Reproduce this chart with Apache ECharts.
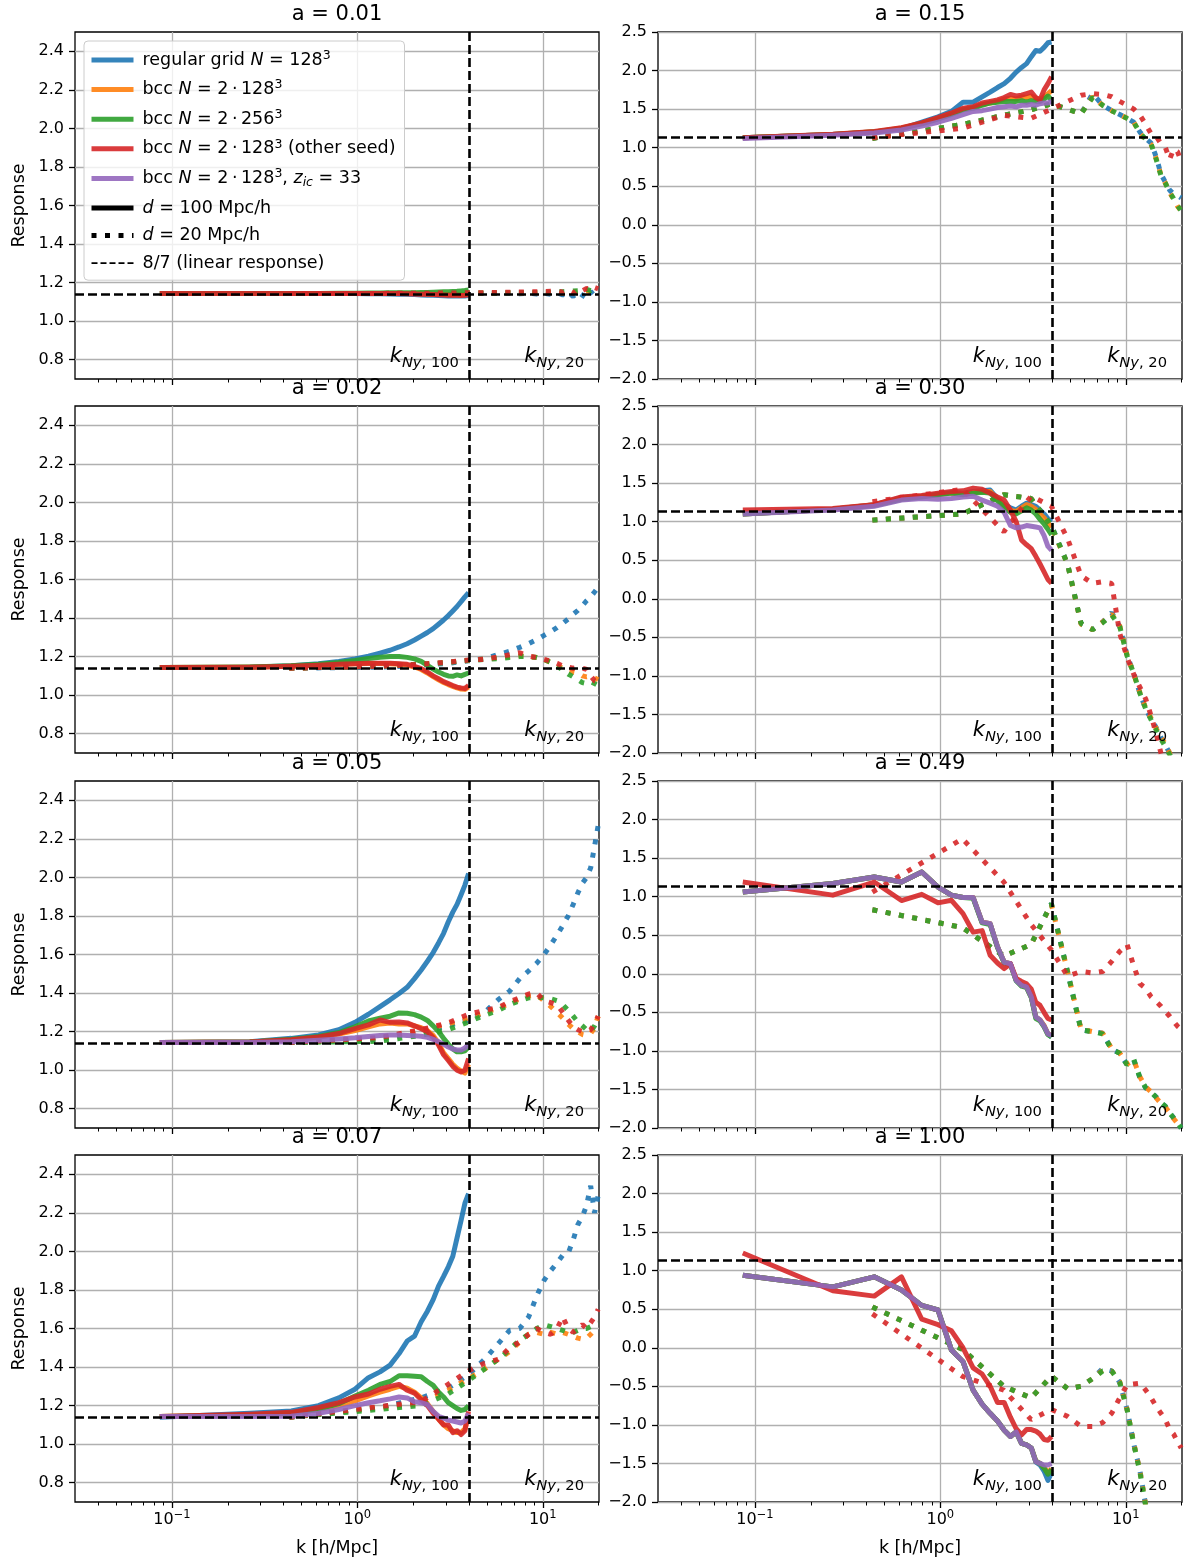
<!DOCTYPE html>
<html>
<head>
<meta charset="utf-8">
<title>Response vs k</title>
<script src="https://cdn.jsdelivr.net/npm/echarts@6/dist/echarts.min.js"></script>
<style>
  html, body { margin: 0; padding: 0; background: #ffffff; }
  #chart { width: 1185px; height: 1562px; }
</style>
</head>
<body>
<div id="chart"></div>
<script>
// ---------------------------------------------------------------
// Wavenumber bins (h/Mpc) for the two box sizes
// ---------------------------------------------------------------
const K100 = [0.086, 0.263, 0.44, 0.617, 0.794, 0.971, 1.148, 1.325, 1.502, 1.679, 1.856, 2.033,
              2.21, 2.387, 2.564, 2.741, 2.918, 3.095, 3.272, 3.449, 3.626, 3.803, 3.98];
const K20 = [0.43, 1.315, 2.2, 3.085, 3.97, 4.855, 5.74, 6.625, 7.51, 8.395, 9.28, 10.165,
             11.05, 11.935, 12.82, 13.705, 14.59, 15.475, 16.36, 17.245, 18.13, 19.015, 19.9];

const K_NY_100 = Math.PI * 128 / 100;
const K_NY_20 = Math.PI * 128 / 20;
const LINEAR_RESPONSE = 8 / 7;

// Axis ticks
const X_MIN = 0.03;
const X_MAJOR_TICKS = [0.1, 1, 10];
const X_MINOR_TICKS = [0.04, 0.05, 0.06, 0.07, 0.08, 0.09, 0.2, 0.3, 0.4, 0.5, 0.6, 0.7, 0.8, 0.9,
                       2, 3, 4, 5, 6, 7, 8, 9, 20];
const Y_LEFT_TICKS = [0.8, 1.0, 1.2, 1.4, 1.6, 1.8, 2.0, 2.2, 2.4];

// ---------------------------------------------------------------
// Response per run, d = 100 Mpc/h (on K100) and d = 20 Mpc/h (on K20)
// ---------------------------------------------------------------
// a = 0.01
const a001_regular_d100 = [1.143,1.143,1.143,1.143,1.143,1.143,1.142,1.142,1.141,1.140,1.139,1.138,1.136,1.135,1.134,1.133,1.132,1.131,1.131,1.130,1.130,1.131,1.133];
const a001_bcc128_d100  = [1.143,1.143,1.143,1.143,1.144,1.144,1.144,1.144,1.144,1.144,1.143,1.143,1.142,1.141,1.140,1.139,1.138,1.138,1.137,1.137,1.137,1.138,1.140];
const a001_bcc256_d100  = [1.143,1.143,1.144,1.144,1.145,1.145,1.146,1.146,1.147,1.147,1.148,1.148,1.149,1.149,1.150,1.151,1.152,1.153,1.154,1.155,1.157,1.159,1.162];
const a001_seed_d100    = [1.143,1.143,1.143,1.144,1.144,1.144,1.144,1.144,1.143,1.143,1.142,1.141,1.140,1.139,1.138,1.137,1.136,1.135,1.134,1.134,1.133,1.134,1.137];
const a001_regular_d20  = [1.143,1.143,1.144,1.144,1.145,1.144,1.143,1.145,1.142,1.146,1.141,1.145,1.140,1.147,1.136,1.150,1.128,1.152,1.135,1.120,1.155,1.130,1.112];
const a001_bcc128_d20   = [1.143,1.144,1.144,1.145,1.145,1.146,1.145,1.147,1.145,1.148,1.146,1.149,1.147,1.150,1.145,1.152,1.148,1.155,1.150,1.158,1.152,1.160,1.155];
const a001_bcc256_d20   = [1.143,1.144,1.145,1.145,1.146,1.146,1.147,1.147,1.148,1.149,1.149,1.150,1.151,1.152,1.153,1.155,1.156,1.158,1.160,1.165,1.158,1.168,1.160];
const a001_seed_d20     = [1.143,1.144,1.145,1.146,1.147,1.148,1.149,1.150,1.151,1.152,1.153,1.154,1.155,1.157,1.150,1.162,1.145,1.165,1.158,1.170,1.162,1.175,1.168];

// a = 0.02
const a002_regular_d100 = [1.143,1.145,1.152,1.163,1.175,1.188,1.202,1.218,1.233,1.250,1.267,1.286,1.306,1.325,1.345,1.368,1.390,1.413,1.437,1.460,1.485,1.510,1.531];
const a002_bcc128_d100  = [1.143,1.145,1.150,1.155,1.160,1.163,1.164,1.164,1.163,1.160,1.156,1.146,1.133,1.115,1.096,1.080,1.066,1.055,1.046,1.038,1.032,1.030,1.043];
const a002_bcc256_d100  = [1.143,1.146,1.152,1.160,1.170,1.180,1.190,1.197,1.200,1.200,1.196,1.188,1.175,1.155,1.135,1.120,1.108,1.100,1.098,1.105,1.100,1.108,1.115];
const a002_seed_d100    = [1.143,1.145,1.150,1.155,1.160,1.163,1.165,1.165,1.165,1.163,1.160,1.150,1.138,1.120,1.100,1.085,1.070,1.060,1.050,1.042,1.037,1.035,1.050];
const a002_regular_d20  = [1.140,1.145,1.155,1.165,1.178,1.190,1.210,1.228,1.248,1.267,1.288,1.310,1.330,1.350,1.372,1.395,1.420,1.440,1.465,1.490,1.510,1.535,1.560];
const a002_bcc128_d20   = [1.140,1.150,1.160,1.170,1.180,1.188,1.195,1.200,1.205,1.200,1.195,1.185,1.170,1.155,1.140,1.125,1.120,1.115,1.100,1.095,1.100,1.090,1.080];
const a002_bcc256_d20   = [1.140,1.150,1.160,1.170,1.180,1.185,1.190,1.195,1.200,1.200,1.195,1.185,1.170,1.150,1.130,1.110,1.095,1.080,1.065,1.060,1.070,1.060,1.050];
const a002_seed_d20     = [1.140,1.150,1.160,1.172,1.182,1.186,1.198,1.210,1.220,1.203,1.195,1.186,1.177,1.165,1.150,1.145,1.140,1.145,1.140,1.134,1.100,1.075,1.070];

// a = 0.05
const a005_regular_d100 = [1.143,1.148,1.165,1.183,1.21,1.248,1.29,1.33,1.365,1.398,1.43,1.475,1.52,1.565,1.61,1.66,1.71,1.77,1.82,1.86,1.91,1.96,2.02];
const a005_bcc128_d100  = [1.143,1.146,1.157,1.17,1.187,1.205,1.225,1.24,1.245,1.24,1.24,1.23,1.22,1.205,1.18,1.14,1.09,1.06,1.03,1.01,0.995,0.985,1.03];
const a005_bcc256_d100  = [1.143,1.146,1.16,1.175,1.195,1.225,1.255,1.27,1.28,1.297,1.295,1.288,1.275,1.258,1.23,1.2,1.165,1.135,1.11,1.095,1.095,1.1,1.12];
const a005_seed_d100    = [1.143,1.146,1.158,1.172,1.19,1.215,1.235,1.26,1.248,1.25,1.245,1.23,1.215,1.2,1.17,1.13,1.08,1.05,1.02,1.0,0.99,1.0,1.06];
const a005_zic_d100     = [1.143,1.143,1.148,1.155,1.162,1.168,1.175,1.18,1.182,1.182,1.18,1.178,1.176,1.17,1.16,1.148,1.135,1.12,1.11,1.105,1.105,1.115,1.135];
const a005_regular_d20  = [1.143,1.16,1.2,1.23,1.26,1.3,1.365,1.41,1.475,1.515,1.555,1.6,1.65,1.7,1.75,1.8,1.86,1.92,1.97,2.0,2.05,2.16,2.27];
const a005_bcc128_d20   = [1.143,1.165,1.205,1.24,1.27,1.3,1.32,1.345,1.37,1.385,1.39,1.36,1.33,1.3,1.27,1.24,1.215,1.2,1.185,1.18,1.19,1.22,1.28];
const a005_bcc256_d20   = [1.143,1.15,1.18,1.21,1.25,1.285,1.31,1.34,1.36,1.375,1.38,1.375,1.37,1.36,1.34,1.31,1.28,1.25,1.23,1.21,1.2,1.23,1.27];
const a005_seed_d20     = [1.143,1.17,1.21,1.245,1.29,1.31,1.325,1.355,1.375,1.395,1.4,1.36,1.35,1.34,1.3,1.26,1.225,1.21,1.2,1.2,1.21,1.24,1.28];

// a = 0.07
const a007_regular_d100 = [1.14,1.16,1.172,1.2,1.24,1.285,1.345,1.375,1.41,1.47,1.535,1.56,1.635,1.69,1.75,1.82,1.87,1.92,1.975,2.07,2.16,2.25,2.3];
const a007_bcc128_d100  = [1.143,1.15,1.16,1.18,1.2,1.225,1.25,1.27,1.285,1.3,1.29,1.27,1.24,1.21,1.17,1.13,1.1,1.08,1.07,1.06,1.06,1.08,1.15];
const a007_bcc256_d100  = [1.143,1.15,1.16,1.18,1.21,1.25,1.28,1.31,1.325,1.355,1.355,1.352,1.35,1.325,1.305,1.27,1.245,1.215,1.2,1.185,1.175,1.18,1.2];
const a007_seed_d100    = [1.143,1.155,1.165,1.19,1.215,1.245,1.26,1.285,1.3,1.31,1.28,1.265,1.23,1.2,1.16,1.13,1.1,1.1,1.06,1.07,1.05,1.07,1.17];
const a007_zic_d100     = [1.143,1.143,1.145,1.16,1.18,1.2,1.215,1.225,1.235,1.245,1.24,1.22,1.215,1.205,1.17,1.145,1.135,1.125,1.12,1.115,1.11,1.12,1.16];
const a007_regular_d20  = [1.14,1.19,1.24,1.29,1.36,1.44,1.52,1.59,1.6,1.66,1.77,1.85,1.9,1.94,1.98,1.99,2.06,2.14,2.18,2.24,2.34,2.2,2.29];
const a007_bcc128_d20   = [1.14,1.19,1.21,1.28,1.34,1.39,1.44,1.48,1.53,1.57,1.58,1.57,1.58,1.57,1.58,1.57,1.56,1.55,1.545,1.55,1.57,1.59,1.58];
const a007_bcc256_d20   = [1.14,1.18,1.2,1.26,1.33,1.39,1.44,1.49,1.54,1.57,1.6,1.62,1.61,1.6,1.59,1.58,1.58,1.59,1.6,1.6,1.61,1.62,1.63];
const a007_seed_d20     = [1.14,1.195,1.22,1.31,1.38,1.42,1.44,1.5,1.53,1.57,1.6,1.58,1.57,1.6,1.66,1.6,1.58,1.6,1.62,1.6,1.63,1.66,1.7];

// a = 0.15
const a015_regular_d100 = [1.13,1.17,1.2,1.245,1.33,1.4,1.47,1.59,1.59,1.66,1.72,1.78,1.83,1.9,1.98,2.04,2.09,2.18,2.26,2.25,2.3,2.36,2.37];
const a015_bcc128_d100  = [1.13,1.17,1.205,1.255,1.315,1.38,1.44,1.5,1.52,1.56,1.58,1.6,1.63,1.64,1.63,1.66,1.65,1.67,1.64,1.62,1.66,1.7,1.74];
const a015_bcc256_d100  = [1.13,1.17,1.205,1.25,1.31,1.37,1.43,1.49,1.51,1.55,1.58,1.59,1.6,1.6,1.6,1.61,1.59,1.61,1.6,1.6,1.63,1.67,1.62];
const a015_seed_d100    = [1.13,1.175,1.21,1.26,1.32,1.39,1.45,1.51,1.53,1.58,1.6,1.62,1.65,1.69,1.67,1.68,1.7,1.72,1.65,1.62,1.75,1.83,1.92];
const a015_zic_d100     = [1.12,1.16,1.19,1.23,1.28,1.33,1.38,1.43,1.47,1.48,1.5,1.52,1.53,1.54,1.53,1.55,1.55,1.56,1.55,1.57,1.58,1.58,1.6];
const a015_regular_d20  = [1.12,1.3,1.42,1.49,1.57,1.5,1.44,1.7,1.55,1.48,1.43,1.38,1.33,1.2,1.12,1.06,0.88,0.66,0.55,0.45,0.4,0.38,0.35];
const a015_bcc128_d20   = [1.12,1.3,1.42,1.49,1.57,1.5,1.44,1.66,1.55,1.48,1.43,1.38,1.33,1.18,1.1,1.04,0.86,0.65,0.54,0.42,0.33,0.24,0.18];
const a015_bcc256_d20   = [1.12,1.3,1.42,1.49,1.57,1.5,1.44,1.65,1.55,1.48,1.43,1.38,1.33,1.19,1.11,1.05,0.85,0.64,0.54,0.42,0.34,0.25,0.18];
const a015_seed_d20     = [1.13,1.25,1.42,1.38,1.5,1.6,1.68,1.7,1.69,1.66,1.6,1.55,1.5,1.42,1.3,1.18,1.15,1.05,1.0,0.85,0.98,0.95,0.82];

// a = 0.30
const a030_regular_d100 = [1.1,1.16,1.22,1.31,1.33,1.36,1.38,1.37,1.39,1.4,1.41,1.3,1.22,1.18,1.15,1.2,1.24,1.22,1.2,1.15,1.1,1.04,1.0];
const a030_bcc128_d100  = [1.1,1.16,1.22,1.3,1.33,1.35,1.37,1.36,1.38,1.39,1.39,1.29,1.21,1.15,1.13,1.18,1.22,1.2,1.16,1.1,1.05,0.98,0.93];
const a030_bcc256_d100  = [1.1,1.16,1.21,1.29,1.32,1.35,1.37,1.35,1.37,1.38,1.37,1.27,1.19,1.12,1.1,1.14,1.18,1.15,1.1,1.03,0.97,0.9,0.83];
const a030_seed_d100    = [1.15,1.17,1.22,1.32,1.34,1.37,1.39,1.4,1.435,1.42,1.37,1.32,1.28,1.15,1.0,0.76,0.7,0.65,0.55,0.45,0.35,0.25,0.2];
const a030_zic_d100     = [1.1,1.15,1.2,1.28,1.3,1.29,1.3,1.32,1.33,1.28,1.24,1.2,1.12,0.95,0.92,0.93,0.95,0.94,0.93,0.92,0.82,0.68,0.63];
const a030_regular_d20  = [1.02,1.1,1.35,1.3,0.95,0.45,-0.32,-0.4,-0.3,-0.18,-0.36,-0.73,-0.97,-1.23,-1.43,-1.56,-1.67,-1.8,-1.9,-2.0,-2.1,-2.2,-2.3];
const a030_bcc128_d20   = [1.02,1.1,1.35,1.3,0.93,0.45,-0.33,-0.4,-0.3,-0.2,-0.35,-0.73,-0.98,-1.22,-1.42,-1.55,-1.68,-1.8,-1.88,-2.0,-2.1,-2.2,-2.3];
const a030_bcc256_d20   = [1.02,1.1,1.35,1.3,0.95,0.45,-0.32,-0.4,-0.31,-0.21,-0.36,-0.74,-0.97,-1.23,-1.43,-1.57,-1.7,-1.82,-1.92,-2.02,-2.1,-2.2,-2.3];
const a030_seed_d20     = [1.26,1.42,0.87,1.33,1.2,0.78,0.3,0.2,0.22,0.2,-0.45,-0.76,-0.98,-1.15,-1.3,-1.52,-1.75,-2.0,-2.2,-2.3,-2.4,-2.5,-2.6];

// a = 0.49
const a049_regular_d100 = [1.06,1.17,1.255,1.19,1.32,1.125,1.02,0.99,0.99,0.67,0.65,0.35,0.15,0.13,-0.085,-0.15,-0.17,-0.3,-0.56,-0.6,-0.68,-0.78,-0.82];
const a049_bcc128_d100  = [1.06,1.17,1.255,1.19,1.32,1.125,1.02,0.99,0.99,0.67,0.65,0.35,0.15,0.13,-0.08,-0.15,-0.17,-0.3,-0.56,-0.6,-0.67,-0.78,-0.8];
const a049_bcc256_d100  = [1.06,1.17,1.255,1.19,1.32,1.125,1.02,0.99,0.98,0.66,0.64,0.34,0.14,0.12,-0.09,-0.16,-0.18,-0.31,-0.58,-0.61,-0.69,-0.79,-0.82];
const a049_seed_d100    = [1.19,1.02,1.19,0.95,1.03,0.92,0.953,0.78,0.54,0.56,0.24,0.14,0.067,0.13,-0.06,-0.1,-0.13,-0.2,-0.37,-0.41,-0.5,-0.58,-0.6];
const a049_zic_d100     = [1.06,1.17,1.255,1.19,1.32,1.125,1.02,0.99,0.99,0.67,0.65,0.35,0.15,0.13,-0.085,-0.15,-0.17,-0.3,-0.56,-0.6,-0.68,-0.78,-0.8];
const a049_regular_d20  = [0.83,0.6,0.23,0.38,0.91,0.03,-0.73,-0.75,-0.77,-0.98,-1.03,-1.18,-1.12,-1.35,-1.48,-1.53,-1.6,-1.67,-1.72,-1.8,-1.87,-1.93,-2.0];
const a049_bcc128_d20   = [0.83,0.6,0.23,0.38,0.9,0.03,-0.72,-0.75,-0.77,-0.97,-1.03,-1.17,-1.12,-1.34,-1.47,-1.53,-1.61,-1.68,-1.73,-1.8,-1.88,-1.94,-2.01];
const a049_bcc256_d20   = [0.83,0.6,0.23,0.38,0.91,0.02,-0.73,-0.75,-0.78,-0.98,-1.03,-1.18,-1.11,-1.35,-1.48,-1.54,-1.6,-1.67,-1.72,-1.81,-1.87,-1.93,-2.0];
const a049_seed_d20     = [1.06,1.75,1.19,0.64,0.31,-0.03,0.03,0.01,0.03,0.16,0.29,0.38,0.1,-0.13,-0.19,-0.3,-0.36,-0.42,-0.49,-0.55,-0.62,-0.68,-0.72];

// a = 1.00
const a100_regular_d100 = [0.94,0.79,0.92,0.75,0.55,0.49,-0.03,-0.18,-0.55,-0.73,-0.85,-0.95,-1.07,-1.15,-1.09,-1.24,-1.26,-1.3,-1.48,-1.52,-1.6,-1.72,-1.62];
const a100_bcc128_d100  = [0.94,0.79,0.92,0.75,0.55,0.49,-0.03,-0.18,-0.55,-0.73,-0.85,-0.95,-1.07,-1.15,-1.09,-1.24,-1.26,-1.3,-1.47,-1.5,-1.55,-1.62,-1.57];
const a100_bcc256_d100  = [0.94,0.79,0.92,0.75,0.55,0.49,-0.03,-0.18,-0.55,-0.73,-0.85,-0.95,-1.07,-1.15,-1.09,-1.24,-1.26,-1.3,-1.47,-1.5,-1.56,-1.64,-1.58];
const a100_seed_d100    = [1.23,0.74,0.67,0.92,0.37,0.3,0.22,0.0,-0.26,-0.34,-0.5,-0.71,-0.71,-0.9,-1.05,-1.13,-1.06,-1.06,-1.08,-1.12,-1.19,-1.2,-1.15];
const a100_zic_d100     = [0.94,0.79,0.92,0.75,0.55,0.49,-0.03,-0.18,-0.55,-0.73,-0.85,-0.95,-1.07,-1.15,-1.09,-1.24,-1.26,-1.3,-1.475,-1.5,-1.52,-1.52,-1.5];
const a100_regular_d20  = [0.53,-0.02,-0.5,-0.65,-0.37,-0.53,-0.5,-0.4,-0.27,-0.3,-0.45,-0.8,-1.25,-1.6,-2.05,-2.3,-2.5,-2.6,-2.7,-2.8,-2.9,-3.0,-3.1];
const a100_bcc128_d20   = [0.53,-0.02,-0.5,-0.65,-0.37,-0.53,-0.5,-0.4,-0.29,-0.3,-0.44,-0.8,-1.24,-1.6,-2.04,-2.3,-2.5,-2.6,-2.7,-2.8,-2.9,-3.0,-3.1];
const a100_bcc256_d20   = [0.53,-0.02,-0.5,-0.65,-0.37,-0.53,-0.5,-0.4,-0.3,-0.3,-0.45,-0.8,-1.25,-1.62,-2.06,-2.3,-2.5,-2.6,-2.7,-2.8,-2.9,-3.0,-3.1];
const a100_seed_d20     = [0.44,-0.37,-0.55,-0.93,-0.8,-0.89,-1.02,-1.02,-0.97,-0.85,-0.65,-0.48,-0.47,-0.46,-0.55,-0.65,-0.76,-0.85,-0.93,-1.06,-1.12,-1.22,-1.3];

// ---------------------------------------------------------------
// Runs, colours and panel arrangement
// ---------------------------------------------------------------
const RUN_NAMES = [
  'regular grid N = 128^3',
  'bcc N = 2*128^3',
  'bcc N = 2*256^3',
  'bcc N = 2*128^3 (other seed)',
  'bcc N = 2*128^3, z_ic = 33'
];
const RUN_COLORS = ['#1f77b4', '#ff7f0e', '#2ca02c', '#d62728', '#9467bd'];
const STYLE_D100 = 'd = 100 Mpc/h';
const STYLE_D20 = 'd = 20 Mpc/h';
const STYLE_LINEAR = '8/7 (linear response)';

const PANELS = [
  { a: '0.01', col: 0, row: 0,
    d100: [a001_regular_d100, a001_bcc128_d100, a001_bcc256_d100, a001_seed_d100, null],
    d20:  [a001_regular_d20, a001_bcc128_d20, a001_bcc256_d20, a001_seed_d20] },
  { a: '0.02', col: 0, row: 1,
    d100: [a002_regular_d100, a002_bcc128_d100, a002_bcc256_d100, a002_seed_d100, null],
    d20:  [a002_regular_d20, a002_bcc128_d20, a002_bcc256_d20, a002_seed_d20] },
  { a: '0.05', col: 0, row: 2,
    d100: [a005_regular_d100, a005_bcc128_d100, a005_bcc256_d100, a005_seed_d100, a005_zic_d100],
    d20:  [a005_regular_d20, a005_bcc128_d20, a005_bcc256_d20, a005_seed_d20] },
  { a: '0.07', col: 0, row: 3,
    d100: [a007_regular_d100, a007_bcc128_d100, a007_bcc256_d100, a007_seed_d100, a007_zic_d100],
    d20:  [a007_regular_d20, a007_bcc128_d20, a007_bcc256_d20, a007_seed_d20] },
  { a: '0.15', col: 1, row: 0,
    d100: [a015_regular_d100, a015_bcc128_d100, a015_bcc256_d100, a015_seed_d100, a015_zic_d100],
    d20:  [a015_regular_d20, a015_bcc128_d20, a015_bcc256_d20, a015_seed_d20] },
  { a: '0.30', col: 1, row: 1,
    d100: [a030_regular_d100, a030_bcc128_d100, a030_bcc256_d100, a030_seed_d100, a030_zic_d100],
    d20:  [a030_regular_d20, a030_bcc128_d20, a030_bcc256_d20, a030_seed_d20] },
  { a: '0.49', col: 1, row: 2,
    d100: [a049_regular_d100, a049_bcc128_d100, a049_bcc256_d100, a049_seed_d100, a049_zic_d100],
    d20:  [a049_regular_d20, a049_bcc128_d20, a049_bcc256_d20, a049_seed_d20] },
  { a: '1.00', col: 1, row: 3,
    d100: [a100_regular_d100, a100_bcc128_d100, a100_bcc256_d100, a100_seed_d100, a100_zic_d100],
    d20:  [a100_regular_d20, a100_bcc128_d20, a100_bcc256_d20, a100_seed_d20] }
];

// ---------------------------------------------------------------
// Layout and styling
// ---------------------------------------------------------------
const FONT = 'DejaVu Sans';
const GRID_LEFT = [75, 658];
const GRID_TOP = [32, 406, 781, 1155];
const GRID_W = 524;
const GRID_H = 347;
const LINE_W = 5;
const DOTS = [5, 8.5];
const REF_DASH = [9, 4];
const DOT_OP = '\u2009\u00b7\u2009';

const LEGEND_TEXT = {};
LEGEND_TEXT[RUN_NAMES[0]] = '{t|regular grid }{i|N}{t| = 128}{sup|3}';
LEGEND_TEXT[RUN_NAMES[1]] = '{t|bcc }{i|N}{t| = 2' + DOT_OP + '128}{sup|3}';
LEGEND_TEXT[RUN_NAMES[2]] = '{t|bcc }{i|N}{t| = 2' + DOT_OP + '256}{sup|3}';
LEGEND_TEXT[RUN_NAMES[3]] = '{t|bcc }{i|N}{t| = 2' + DOT_OP + '128}{sup|3}{t| (other seed)}';
LEGEND_TEXT[RUN_NAMES[4]] = '{t|bcc }{i|N}{t| = 2' + DOT_OP + '128}{sup|3}{t|, }{i|z}{sub|ic}{t| = 33}';
LEGEND_TEXT[STYLE_D100] = '{i|d}{t| = 100 Mpc/h}';
LEGEND_TEXT[STYLE_D20] = '{i|d}{t| = 20 Mpc/h}';
LEGEND_TEXT[STYLE_LINEAR] = '{t|8/7 (linear response)}';

function logTickLabel(v) {
  const e = Math.round(Math.log10(v));
  return '{b|10}{s|' + (e < 0 ? '\u2212' + (-e) : String(e)) + '}';
}
function signedLabel(v) {
  return v.toFixed(1).replace('-', '\u2212');
}
function pairs(ks, vals) {
  return ks.map((k, i) => [k, vals[i]]);
}

const grids = [], xAxes = [], yAxes = [], titles = [], series = [];

PANELS.forEach((p, idx) => {
  const left = p.col === 0;
  const bottom = p.row === 3;
  const gx = GRID_LEFT[p.col], gy = GRID_TOP[p.row];

  grids.push({
    left: gx, top: gy, width: GRID_W, height: GRID_H,
    show: true, borderColor: '#000', borderWidth: 1.3, backgroundColor: 'transparent'
  });

  titles.push({
    text: 'a = ' + p.a,
    left: gx + GRID_W / 2, top: gy - 28, textAlign: 'center', padding: 0,
    textStyle: { fontFamily: FONT, fontSize: 21, fontWeight: 'normal', color: '#000' }
  });

  // main log axis: decades, gridlines and labels
  xAxes.push({
    type: 'log', logBase: 10, gridIndex: idx, min: X_MIN, max: K_NY_20, position: 'bottom',
    axisLine: { show: false, onZero: false },
    axisTick: { show: true, customValues: X_MAJOR_TICKS, length: 6, lineStyle: { color: '#000', width: 1.3 } },
    axisLabel: {
      show: bottom, customValues: X_MAJOR_TICKS, formatter: logTickLabel, margin: 7,
      rich: {
        b: { fontFamily: FONT, fontSize: 16, color: '#000', lineHeight: 22 },
        s: { fontFamily: FONT, fontSize: 11.5, color: '#000', lineHeight: 13, verticalAlign: 'top' }
      }
    },
    splitLine: { show: true, lineStyle: { color: '#b0b0b0', width: 1.3 } },
    name: bottom ? 'k [h/Mpc]' : '', nameLocation: 'middle', nameGap: 37,
    nameTextStyle: { fontFamily: FONT, fontSize: 17.5, color: '#000' }
  });
  // companion axis carrying the minor ticks
  xAxes.push({
    type: 'log', logBase: 10, gridIndex: idx, min: X_MIN, max: K_NY_20, position: 'bottom',
    axisLine: { show: false, onZero: false },
    axisTick: { show: true, customValues: X_MINOR_TICKS, length: 3.5, lineStyle: { color: '#000', width: 1 } },
    axisLabel: { show: false },
    splitLine: { show: false }
  });

  const yBase = {
    type: 'value', gridIndex: idx,
    axisLine: { show: false, onZero: false },
    axisTick: { show: true, length: 6, lineStyle: { color: '#000', width: 1.3 } },
    axisLabel: { fontFamily: FONT, fontSize: 16, color: '#000', margin: 11, formatter: signedLabel },
    splitLine: { show: true, lineStyle: { color: '#b0b0b0', width: 1.3 } },
    name: left ? 'Response' : '', nameLocation: 'middle', nameGap: 47,
    nameTextStyle: { fontFamily: FONT, fontSize: 17.5, color: '#000' }
  };
  if (left) {
    yBase.min = 0.7; yBase.max = 2.5;
    yBase.axisTick.customValues = Y_LEFT_TICKS;
    yBase.axisLabel.customValues = Y_LEFT_TICKS;
  } else {
    yBase.min = -2; yBase.max = 2.5; yBase.interval = 0.5;
  }
  yAxes.push(yBase);

  const xi = idx * 2;
  for (let s = 0; s < 5; s++) {
    if (p.d100[s]) {
      series.push({
        name: RUN_NAMES[s], type: 'line', xAxisIndex: xi, yAxisIndex: idx,
        data: pairs(K100, p.d100[s]), symbol: 'none', silent: true, z: 2,
        lineStyle: { color: RUN_COLORS[s], width: LINE_W, opacity: 0.9, cap: 'butt', join: 'round' },
        itemStyle: { color: RUN_COLORS[s] }
      });
    }
    if (s < 4 && p.d20[s]) {
      series.push({
        name: RUN_NAMES[s] + ' [20]', type: 'line', xAxisIndex: xi, yAxisIndex: idx,
        data: pairs(K20, p.d20[s]), symbol: 'none', silent: true, z: 2,
        lineStyle: { color: RUN_COLORS[s], width: LINE_W, opacity: 0.9, type: DOTS, cap: 'butt' },
        itemStyle: { color: RUN_COLORS[s] }
      });
    }
  }

  // reference lines and Nyquist labels
  const yLab = left ? 0.816 : -1.715;
  series.push({
    name: 'reference ' + idx, type: 'line', xAxisIndex: xi, yAxisIndex: idx,
    data: [], silent: true, clip: false, z: 5,
    markLine: {
      silent: true, symbol: ['none', 'none'], animation: false, label: { show: false },
      lineStyle: { color: '#000', width: 2.6, type: REF_DASH },
      emphasis: { disabled: true },
      data: [{ yAxis: LINEAR_RESPONSE }, { xAxis: K_NY_100 }, { xAxis: K_NY_20 }]
    },
    markPoint: {
      silent: true, symbol: 'circle', symbolSize: 0, animation: false,
      itemStyle: { color: 'transparent' },
      label: {
        show: true, position: 'left', distance: 0,
        rich: {
          k: { fontFamily: FONT, fontSize: 21, fontStyle: 'italic', color: '#000', lineHeight: 28 },
          si: { fontFamily: FONT, fontSize: 14.7, fontStyle: 'italic', color: '#000', lineHeight: 17, verticalAlign: 'bottom' },
          s: { fontFamily: FONT, fontSize: 14.7, color: '#000', lineHeight: 17, verticalAlign: 'bottom' }
        }
      },
      data: [
        { coord: [K_NY_100 * 0.878, yLab], label: { formatter: '{k|k}{si|Ny}{s|, 100}' } },
        { coord: [K_NY_20 * 0.83, yLab], label: { formatter: '{k|k}{si|Ny}{s|, 20}' } }
      ]
    }
  });
});

// legend-only entries for the two box sizes and the linear response
series.push({ name: STYLE_D100, type: 'line', xAxisIndex: 0, yAxisIndex: 0, data: [], symbol: 'none',
  lineStyle: { color: '#000', width: LINE_W }, itemStyle: { color: '#000' } });
series.push({ name: STYLE_D20, type: 'line', xAxisIndex: 0, yAxisIndex: 0, data: [], symbol: 'none',
  lineStyle: { color: '#000', width: LINE_W, type: DOTS, cap: 'butt' }, itemStyle: { color: '#000' } });
series.push({ name: STYLE_LINEAR, type: 'line', xAxisIndex: 0, yAxisIndex: 0, data: [], symbol: 'none',
  lineStyle: { color: '#000', width: 1.7, type: [6, 3] }, itemStyle: { color: '#000' } });

const option = {
  animation: false,
  backgroundColor: '#ffffff',
  title: titles,
  grid: grids,
  xAxis: xAxes,
  yAxis: yAxes,
  legend: {
    data: RUN_NAMES.concat([STYLE_D100, STYLE_D20, STYLE_LINEAR]),
    orient: 'vertical', left: 84, top: 41,
    padding: [8, 9, 8, 5], itemGap: 9.6, itemWidth: 42, itemHeight: 14,
    selectedMode: false,
    backgroundColor: 'rgba(255,255,255,0.8)', borderColor: '#cccccc', borderWidth: 1, borderRadius: 4,
    itemStyle: { opacity: 0 },
    lineStyle: { width: 'inherit' },
    formatter: name => LEGEND_TEXT[name] || name,
    textStyle: {
      padding: [0, 0, 0, 4],
      rich: {
        t: { fontFamily: FONT, fontSize: 17.5, color: '#000', lineHeight: 22 },
        i: { fontFamily: FONT, fontSize: 17.5, fontStyle: 'italic', color: '#000', lineHeight: 22 },
        sup: { fontFamily: FONT, fontSize: 12.5, color: '#000', lineHeight: 14, verticalAlign: 'top' },
        sub: { fontFamily: FONT, fontSize: 12.5, fontStyle: 'italic', color: '#000', lineHeight: 14, verticalAlign: 'bottom' }
      }
    }
  },
  series: series
};

const chart = echarts.init(document.getElementById('chart'), null, { renderer: 'canvas' });
chart.setOption(option);
</script>
</body>
</html>
